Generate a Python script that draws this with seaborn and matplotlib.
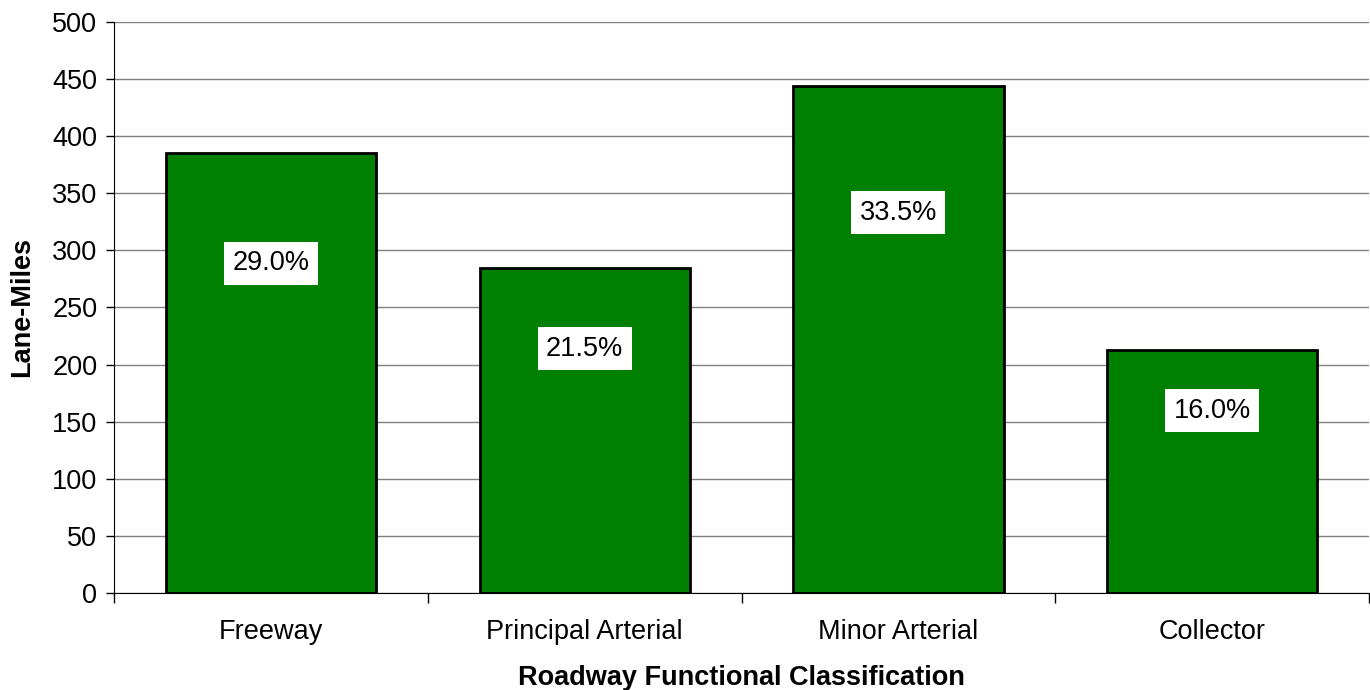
import matplotlib
matplotlib.use("Agg")
import matplotlib.pyplot as plt
import seaborn as sns
import pandas as pd

# data
categories = ["Freeway", "Principal Arterial", "Minor Arterial", "Collector"]
lane_miles = [385, 285, 444, 213]
share_labels = ["29.0%", "21.5%", "33.5%", "16.0%"]

sns.set_style("white")
plt.rcParams['font.family'] = ['Liberation Sans', 'DejaVu Sans']
plt.rcParams['text.color'] = 'black'
plt.rcParams['axes.labelcolor'] = 'black'
plt.rcParams['xtick.color'] = 'black'
plt.rcParams['ytick.color'] = 'black'

df = pd.DataFrame({"cls": categories, "miles": lane_miles})

fig = plt.figure(figsize=(13.7, 6.9), dpi=100)
ax = fig.add_axes([0.0832, 0.1406, 0.9161, 0.8275])

ax.set_axisbelow(True)
ax.yaxis.grid(True, color="#808080", linewidth=1)
sns.barplot(data=df, x="cls", y="miles", color="#008000", saturation=1,
            width=0.67, edgecolor="black", linewidth=2, ax=ax)

# white boxed percentage labels
for i, (v, lab) in enumerate(zip(lane_miles, share_labels)):
    ax.text(i, v * 0.75, lab, ha="center", va="center", fontsize=19.5, color="black",
            bbox=dict(facecolor="white", edgecolor="none", pad=6))

ax.set_xlim(-0.5, 3.5)
ax.set_ylim(0, 500)
ax.set_yticks(range(0, 501, 50))
ax.tick_params(axis="y", labelsize=19.5, length=6, width=1, color="black", left=True,
               direction="out", pad=6)
ax.set_xticks(range(len(categories)))
ax.set_xticklabels(categories)
ax.set_xticks([-0.5, 0.5, 1.5, 2.5, 3.5], minor=True)
ax.tick_params(axis="x", which="major", length=0, labelsize=19.5, pad=19)
ax.tick_params(axis="x", which="minor", length=7, width=1, color="black", bottom=True, direction="out")

for s in ["top", "right"]:
    ax.spines[s].set_visible(False)
ax.spines["left"].set_color("black")
ax.spines["bottom"].set_color("black")

ax.set_xlabel("Roadway Functional Classification", fontsize=19.5, fontweight="bold", labelpad=14)
ax.set_ylabel("Lane-Miles", fontsize=19.5, fontweight="bold", labelpad=12)

fig.savefig("out.png", dpi=100)
